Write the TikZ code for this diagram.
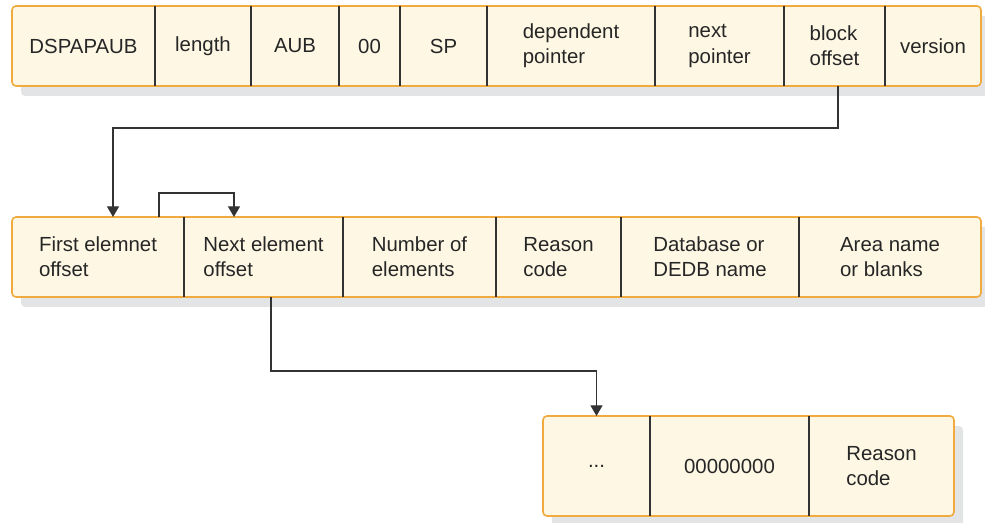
\documentclass[tikz,border=0pt]{standalone}
\usepackage{fontspec}
\setmainfont{Liberation Sans}
\usetikzlibrary{arrows.meta,positioning,backgrounds}
\definecolor{frameorange}{HTML}{F1AA3E}
\definecolor{cellcream}{HTML}{FDF7E4}
\definecolor{shadowgray}{HTML}{E3E4E6}
\definecolor{linegray}{HTML}{333333}

\begin{document}
\begin{tikzpicture}[x=0.75pt, y=-0.75pt,
  cell/.style={minimum height=60pt, inner sep=0pt, outer sep=0pt, align=left,
               font=\fontsize{15.3}{18.8}\selectfont, text=black!85},
  cellw/.style={minimum width=#1*0.75pt},
  frame/.style={draw=frameorange, line width=1.2pt, fill=cellcream, rounded corners=3pt},
  shade/.style={fill=shadowgray, rounded corners=3pt},
  divider/.style={draw=linegray, line width=0.8pt},
  arr/.style={-{Triangle[length=8pt, width=9pt]}, draw=linegray, line width=1pt}
]
\useasboundingbox (0,0) rectangle (985,523);

\node[cell, cellw=143] (dsp) at (83.5,46) {DSPAPAUB};
\node[cell, cellw=96, right=0pt of dsp] (len) {length};
\node[cell, cellw=88, right=0pt of len] (aub) {AUB};
\node[cell, cellw=61, right=0pt of aub] (zero) {00};
\node[cell, cellw=87, right=0pt of zero] (sp) {SP};
\node[cell, cellw=168, right=0pt of sp] (dep) {dependent\\pointer};
\node[cell, cellw=129, right=0pt of dep] (nptr) {next\\pointer};
\node[cell, cellw=101, right=0pt of nptr] (blk) {block\\offset};
\node[cell, cellw=96, right=0pt of blk] (ver) {version};

\node[cell, cellw=172] (fst) at (98,257) {First elemnet\\offset};
\node[cell, cellw=159, right=0pt of fst] (nxt) {Next element\\offset};
\node[cell, cellw=153, right=0pt of nxt] (num) {Number of\\elements};
\node[cell, cellw=125, right=0pt of num] (rsn) {Reason\\code};
\node[cell, cellw=178, right=0pt of rsn] (dbn) {Database or\\DEDB name};
\node[cell, cellw=182, right=0pt of dbn] (area) {Area name\\or blanks};

\node[cell, cellw=107, minimum height=75pt] (dots) at (596.5,466) {...};
\node[cell, cellw=159, minimum height=75pt, right=0pt of dots] (zeros) {00000000};
\node[cell, cellw=145, minimum height=75pt, right=0pt of zeros] (rcode) {Reason\\code};

\begin{scope}[on background layer]
  \foreach \a/\b in {dsp/ver, fst/area, dots/rcode} {
    \fill[shade] ([shift={(9,10)}]\a.north west) rectangle ([shift={(9,10)}]\b.south east);
    \draw[frame] (\a.north west) rectangle (\b.south east);
  }
\end{scope}

\foreach \c in {dsp,len,aub,zero,sp,dep,nptr,blk,fst,nxt,num,rsn,dbn,dots,zeros}
  \draw[divider] (\c.north east) -- (\c.south east);

\draw[arr] ([xshift=2.6pt]blk.south) -- ++(0,42) -| ([xshift=11.25pt]fst.north);
\draw[arr] ([xshift=-18.75pt]fst.north east) -- ++(0,-24) -| ([xshift=37.5pt]nxt.north west);
\draw[arr] ([xshift=5.6pt]nxt.south) -- ++(0,74) -| (dots.north);
\end{tikzpicture}
\end{document}
